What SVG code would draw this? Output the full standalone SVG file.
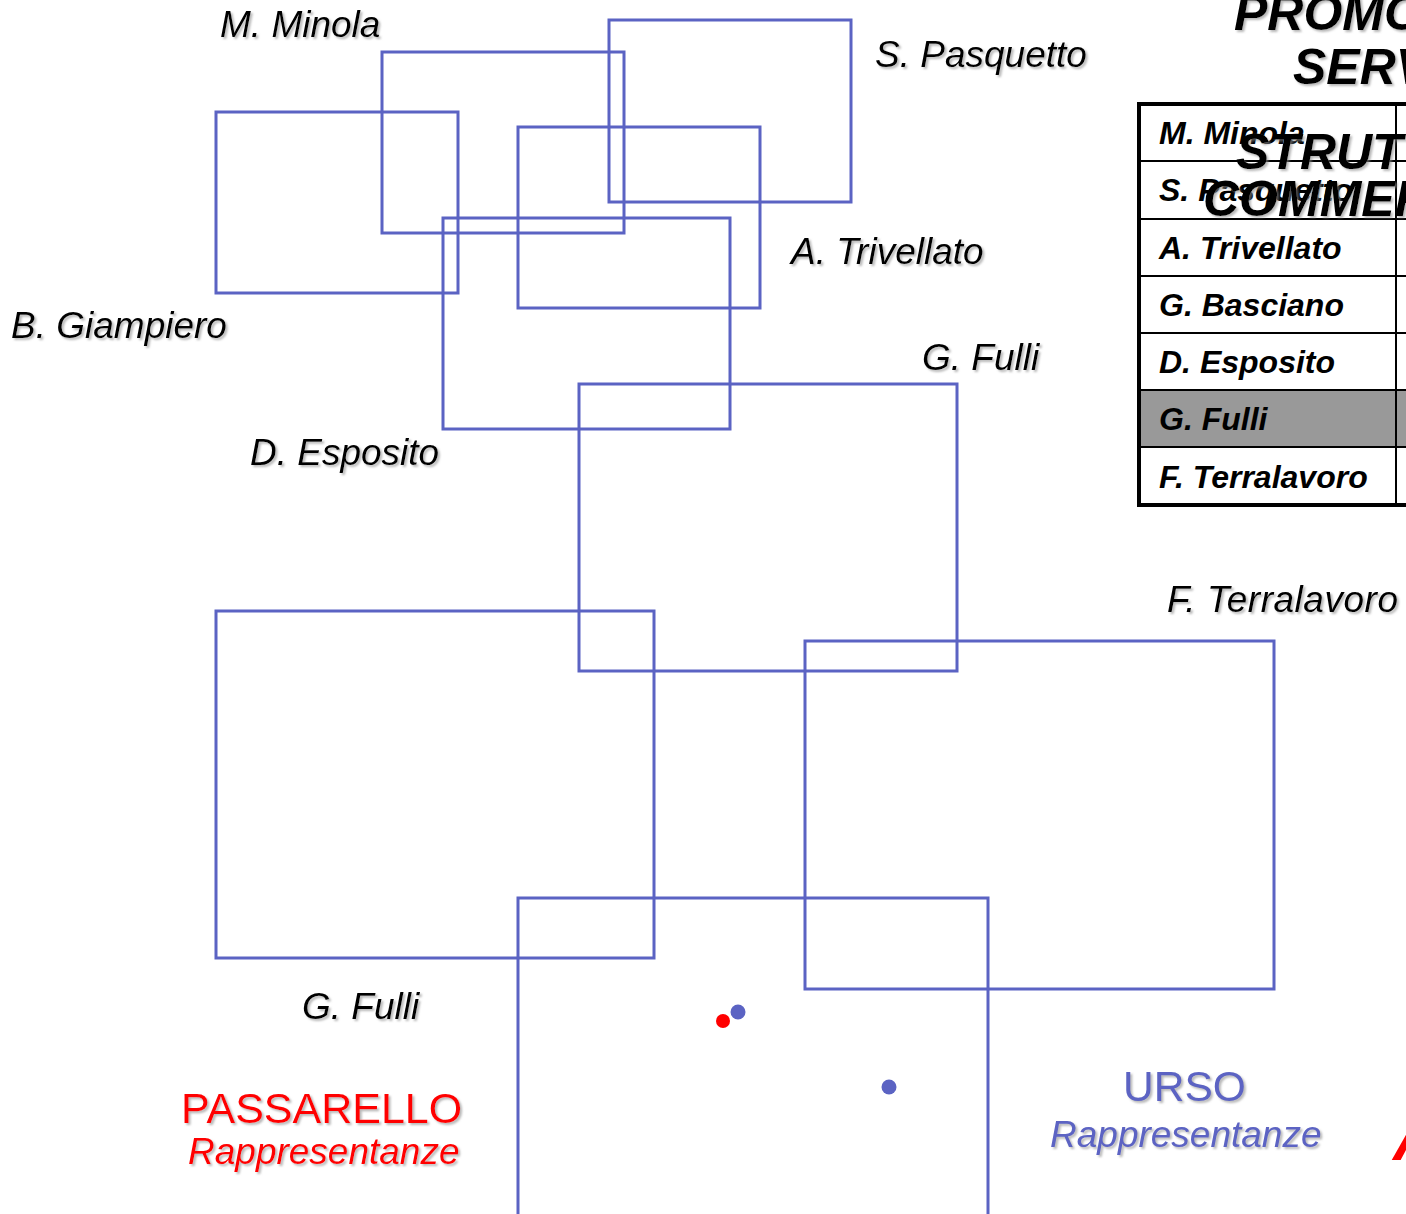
<svg xmlns="http://www.w3.org/2000/svg" width="1406" height="1214" viewBox="0 0 1406 1214">
<defs>
<filter id="sh" x="-10%" y="-30%" width="120%" height="160%">
<feDropShadow dx="2" dy="2" stdDeviation="0.8" flood-color="#888" flood-opacity="0.6"/>
</filter>
</defs>
<style>
.box{fill:none;stroke:#5B63C3;stroke-width:3}
.lbl{font-family:"Liberation Sans",Arial,sans-serif;font-style:italic;font-size:37px;fill:#000;filter:url(#sh)}
.ttl{font-family:"Liberation Sans",Arial,sans-serif;font-style:italic;font-weight:bold;font-size:50px;fill:#000;filter:url(#sh)}
.cell{font-family:"Liberation Sans",Arial,sans-serif;font-style:italic;font-weight:bold;font-size:32px;fill:#000}
.row{stroke:#000;stroke-width:2}
</style>
<rect width="1406" height="1214" fill="#fff"/>

<g id="table">
<rect x="1139" y="390" width="270" height="57" fill="#999"/>
<rect x="1139" y="104" width="280" height="401" fill="none" stroke="#000" stroke-width="4"/>
<line class="row" x1="1139" y1="161" x2="1406" y2="161"/>
<line class="row" x1="1139" y1="219" x2="1406" y2="219"/>
<line class="row" x1="1139" y1="276" x2="1406" y2="276"/>
<line class="row" x1="1139" y1="333" x2="1406" y2="333"/>
<line class="row" x1="1139" y1="390" x2="1406" y2="390"/>
<line class="row" x1="1139" y1="447" x2="1406" y2="447"/>
<line class="row" x1="1396" y1="104" x2="1396" y2="505"/>
<text class="cell" x="1159" y="144">M. Minola</text>
<text class="cell" x="1159" y="201">S. Pasquetto</text>
<text class="cell" x="1159" y="259">A. Trivellato</text>
<text class="cell" x="1159" y="316">G. Basciano</text>
<text class="cell" x="1159" y="373">D. Esposito</text>
<text class="cell" x="1159" y="430">G. Fulli</text>
<text class="cell" x="1159" y="488">F. Terralavoro</text>
</g>

<g id="title">
<text class="ttl" x="1234" y="30">PROMO</text>
<text class="ttl" x="1293" y="84">SERV</text>
<text class="ttl" x="1236" y="169">STRUTT</text>
<text class="ttl" x="1203" y="216">COMMER</text>
</g>

<g id="node-giampiero">
<rect class="box" x="216" y="112" width="242" height="181"/>
<text class="lbl" x="11" y="338">B. Giampiero</text>
</g>
<g id="node-minola">
<rect class="box" x="382" y="52" width="242" height="181"/>
<text class="lbl" x="220" y="37">M. Minola</text>
</g>
<g id="node-pasquetto">
<rect class="box" x="609" y="20" width="242" height="182"/>
<text class="lbl" x="875" y="67">S. Pasquetto</text>
</g>
<g id="node-trivellato">
<rect class="box" x="518" y="127" width="242" height="181"/>
<text class="lbl" x="791" y="264">A. Trivellato</text>
</g>
<g id="node-esposito">
<rect class="box" x="443" y="218" width="287" height="211"/>
<text class="lbl" x="250" y="465">D. Esposito</text>
</g>
<g id="node-fulli-top">
<rect class="box" x="579" y="384" width="378" height="287"/>
<text class="lbl" x="922" y="370">G. Fulli</text>
</g>
<g id="node-fulli-bottom">
<rect class="box" x="216" y="611" width="438" height="347"/>
<text class="lbl" x="302" y="1019">G. Fulli</text>
</g>
<g id="node-terralavoro">
<rect class="box" x="805" y="641" width="469" height="348"/>
<text class="lbl" x="1167" y="612" textLength="231" lengthAdjust="spacing">F. Terralavoro</text>
</g>
<g id="node-bottom">
<rect class="box" x="518" y="898" width="470" height="330"/>
<circle cx="723" cy="1021" r="7" fill="#f00"/>
<circle cx="738" cy="1012" r="7.5" fill="#5B63C3"/>
<circle cx="889" cy="1087" r="7.5" fill="#5B63C3"/>
</g>

<g id="passarello">
<text x="181" y="1123" font-family="Liberation Sans, Arial, sans-serif" font-size="43" fill="#f00" filter="url(#sh)">PASSARELLO</text>
<text x="188" y="1164" font-family="Liberation Sans, Arial, sans-serif" font-style="italic" font-size="37" fill="#f00" filter="url(#sh)">Rappresentanze</text>
</g>
<g id="urso">
<text x="1123" y="1101" font-family="Liberation Sans, Arial, sans-serif" font-size="42.5" fill="#5B63C3" filter="url(#sh)">URSO</text>
<text x="1050" y="1147" font-family="Liberation Sans, Arial, sans-serif" font-style="italic" font-size="37" fill="#5B63C3" filter="url(#sh)">Rappresentanze</text>
</g>
<g id="red-mark">
<text x="1393" y="1160" font-family="Liberation Sans, Arial, sans-serif" font-style="italic" font-weight="bold" font-size="62" fill="#f00">A</text>
</g>
<g id="connectors"></g>
</svg>
